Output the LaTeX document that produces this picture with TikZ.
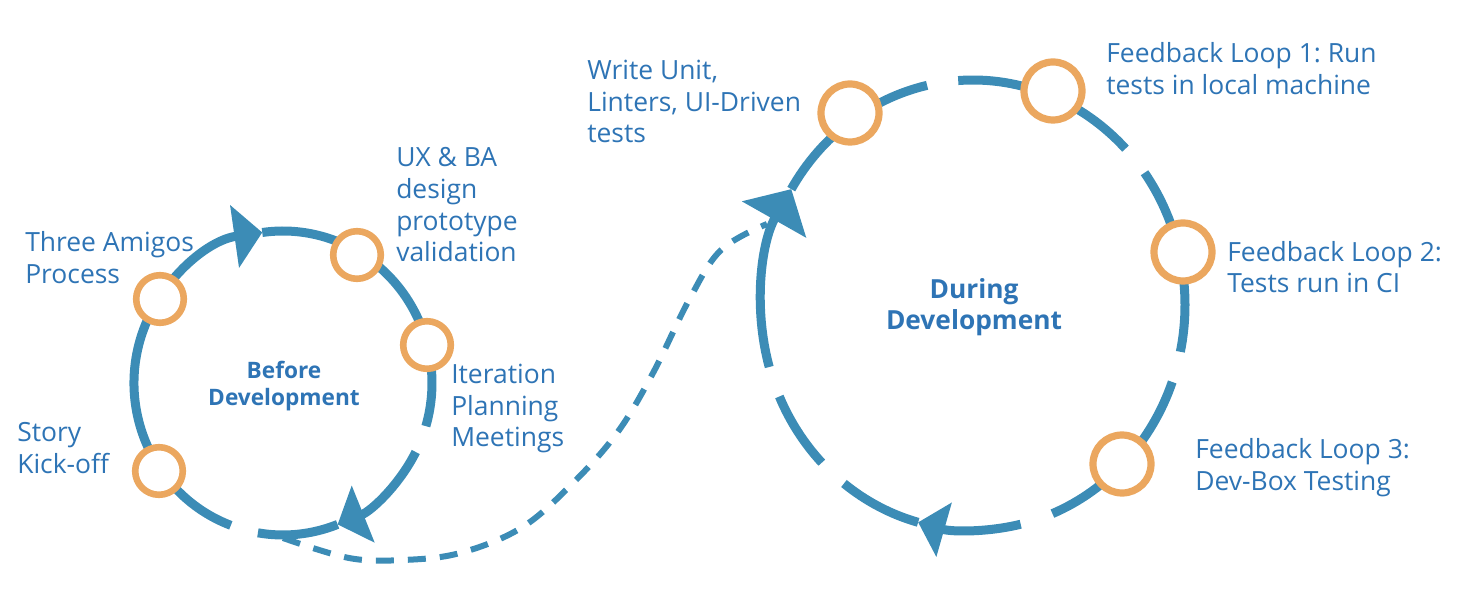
\documentclass[tikz,border=0pt]{standalone}
\usepackage{fontspec}
\setmainfont{Open Sans}
\usetikzlibrary{arrows.meta}
\frenchspacing

\definecolor{loopblue}{RGB}{60,140,182}
\definecolor{captionblue}{RGB}{46,116,181}
\definecolor{stageorange}{RGB}{235,167,95}

\begin{document}
\begin{tikzpicture}[
    % one unit is one pixel of the sketch, y runs downwards
    x=0.025cm, y=-0.025cm,
    font=\fontsize{18.8}{22.5}\selectfont,
    loop/.style       = {draw=loopblue, line width=0.225cm},
    dashedlink/.style = {draw=loopblue, line width=0.15cm, dash pattern=on 0.45cm off 0.35cm},
    smallring/.style  = {circle, draw=stageorange, fill=white, line width=0.165cm, minimum size=1.19cm, inner sep=0pt},
    bigring/.style    = {smallring, line width=0.18cm, minimum size=1.45cm},
    % captions are placed at the base line of their last line
    caption/.style    = {anchor=base west, align=left, text=captionblue, inner sep=0pt},
    stagename/.style  = {anchor=base, align=center, text=captionblue, inner sep=0pt},
  ]
  \useasboundingbox (0,0) rectangle (1468,590);

  \coordinate (before) at (283,383);
  \coordinate (during) at (973,305);

  %% ---------- dashed hand-over between the two loops ----------
  \coordinate (handoff) at (283,538);
  \coordinate (pickup) at (767,224);
  \draw[dashedlink] plot[smooth, tension=0.6] coordinates {
    (handoff) (349,558) (403,560) (460,553) (521,528) (571,485)
    (617,433) (653,373) (689,300) (721,250) (pickup)};

  %% ---------- left loop: before development ----------
  \foreach \a/\b in {262/376.5, 68.5/99.7} {
    \draw[loop] (before) ++(\a:149 and 152) arc[start angle=\a, end angle=\b, x radius=149, y radius=152];
  }
  \draw[loop, -{Triangle[width=1.55cm, length=0.7cm]}]
    (before) ++(110.5:149 and 152) arc[start angle=110.5, end angle=262, x radius=149, y radius=152];
  \draw[loop, -{Triangle[width=1.5cm, length=0.69cm]}]
    (before) ++(27:149 and 152) arc[start angle=27, end angle=68.5, x radius=149, y radius=152];

  %% ---------- right loop: during development ----------
  \foreach \a/\b in {211/257.5, 266/316, 324/372, 380/428, 105/127.5, 135.5/156} {
    \draw[loop] (during) ++(\a:212 and 225) arc[start angle=\a, end angle=\b, x radius=212, y radius=225];
  }
  \draw[loop, -{Triangle[width=1.375cm, length=0.675cm]}]
    (during) ++(77:212 and 225) arc[start angle=77, end angle=105, x radius=212, y radius=225];
  \draw[loop, -{Triangle[width=1.8cm, length=0.875cm]}]
    (during) ++(164:212 and 225) arc[start angle=164, end angle=211, x radius=212, y radius=225];

  %% ---------- stages ----------
  \node[smallring] (story)  at (159,471) {};
  \node[smallring] (amigos) at (160,299) {};
  \node[smallring] (uxba)   at (357,255) {};
  \node[smallring] (iter)   at (427,345) {};

  \node[bigring] (unit)  at (850,113) {};
  \node[bigring] (loopa) at (1053,91) {};
  \node[bigring] (loopb) at (1183,252) {};
  \node[bigring] (loopc) at (1122,464) {};

  %% ---------- captions ----------
  \node[caption] (amigostext) at (25,283.3)  {Three Amigos\\Process};
  \node[caption] (storytext)  at (17,473.3)  {Story\\Kick-off};
  \node[caption] (uxbatext)   at (396,261.7) {UX \& BA\\design\\prototype\\validation};
  \node[caption] (itertext)   at (451,446.7) {Iteration\\Planning\\Meetings};
  \node[caption] (unittext)   at (587,142.7) {Write Unit,\\Linters, UI-Driven\\tests};
  \node[caption] (loopatext)  at (1106,94.3) {Feedback Loop 1: Run\\tests in local machine};
  \node[caption] (loopbtext)  at (1227,293)  {Feedback Loop 2:\\Tests run in CI};
  \node[caption] (loopctext)  at (1195,490)  {Feedback Loop 3:\\Dev-Box Testing};

  \node[stagename, font=\fontsize{16.1}{19}\selectfont\bfseries] (beforetext) at (284,405) {Before\\Development};
  \node[stagename, font=\fontsize{18.7}{22.7}\selectfont\bfseries] (duringtext) at (974,330) {During\\Development};
\end{tikzpicture}
\end{document}
